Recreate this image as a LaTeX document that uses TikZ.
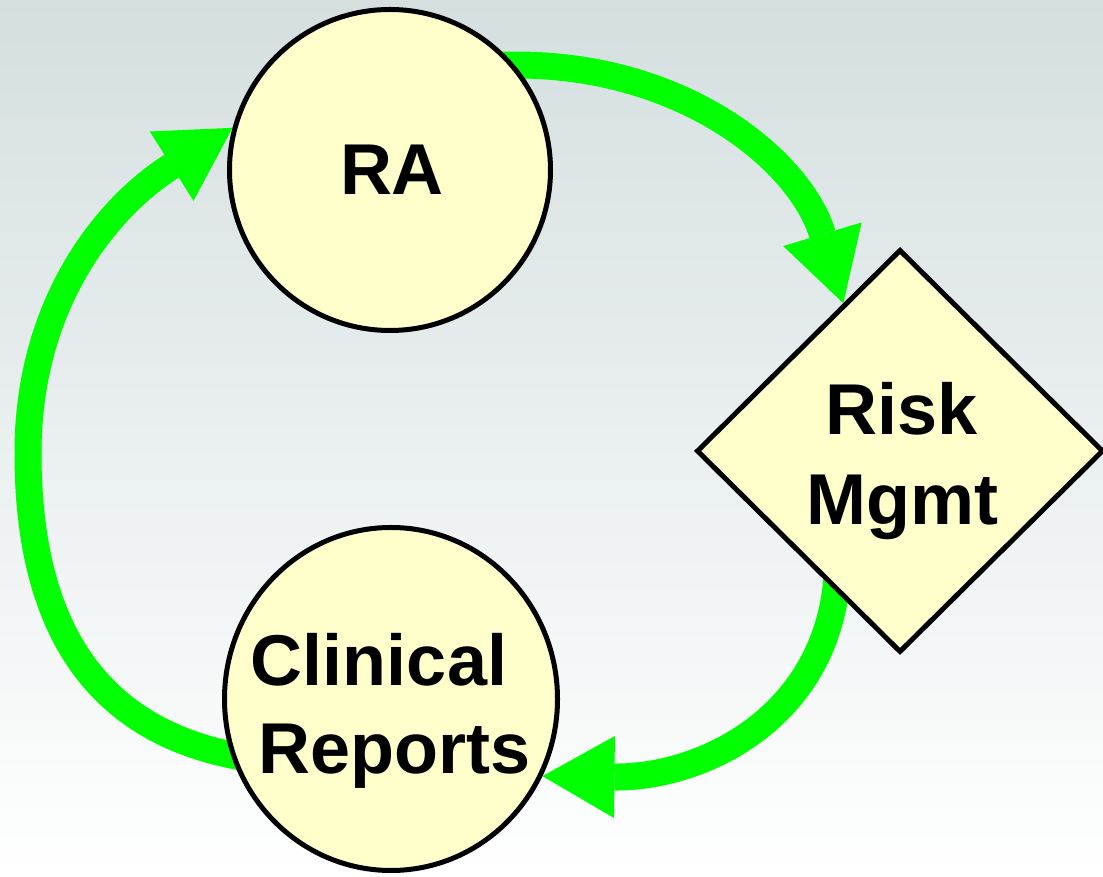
\documentclass[tikz,border=0pt]{standalone}
\usepackage{fontspec}
\setmainfont{Liberation Sans}
\usetikzlibrary{arrows.meta,shapes.geometric}
\pgfdeclarelayer{back}
\pgfdeclarelayer{mid}
\pgfsetlayers{back,mid,main}
\definecolor{bgtop}{HTML}{D5DFE0}
\definecolor{nodefill}{HTML}{FFFFCC}
\definecolor{flow}{HTML}{00FF00}
\begin{document}
\begin{tikzpicture}[x=1pt,y=1pt,
  shapebox/.style={draw=black, line width=5pt, fill=nodefill, inner sep=0pt},
  lbl/.style={font=\bfseries\fontsize{72}{88}\selectfont, align=center, inner sep=0pt},
  flowarrow/.style={draw=flow, line width=27pt,
    -{Triangle[length=72pt,width=82pt,line width=0pt]}}]
\useasboundingbox (0,0) rectangle (1103,877);
\begin{pgfonlayer}{back}
  \shade[top color=bgtop, bottom color=white] (0,0) rectangle (1103,877);
\end{pgfonlayer}
% shapes
\node[shapebox, circle, minimum size=321pt] (ra) at (390,707) {};
\node[shapebox, diamond, minimum width=407pt, minimum height=403pt] (rm) at (900,426) {};
\node[shapebox, ellipse, minimum width=333pt, minimum height=343pt] (cr) at (391,178) {};
% labels
\node[lbl] (ratext) at (392,707) {RA};
\node[lbl, font=\bfseries\fontsize{72}{90}\selectfont] (rmtext) at (902,415.5) {Risk\\Mgmt};
\node[lbl] (crtext) at (387,166.5) {\hspace*{-16pt}Clinical\\\hspace*{16pt}Reports};
% connectors
\coordinate (lft) at (28,424);
\begin{pgfonlayer}{mid}
  \draw[flowarrow] ([xshift=-12pt]ra.40) .. controls (680,817) and (800,717) .. (rm.111);
  \draw[flowarrow] ([yshift=14pt]rm.246) .. controls (825,157) and (700,99) .. (cr.-27);
  \draw[flowarrow] ([xshift=10pt]cr.200) .. controls (90,147) and (28,257) .. (lft)
     .. controls (28,577) and (110,672) .. (ra.165);
\end{pgfonlayer}
\end{tikzpicture}
\end{document}
